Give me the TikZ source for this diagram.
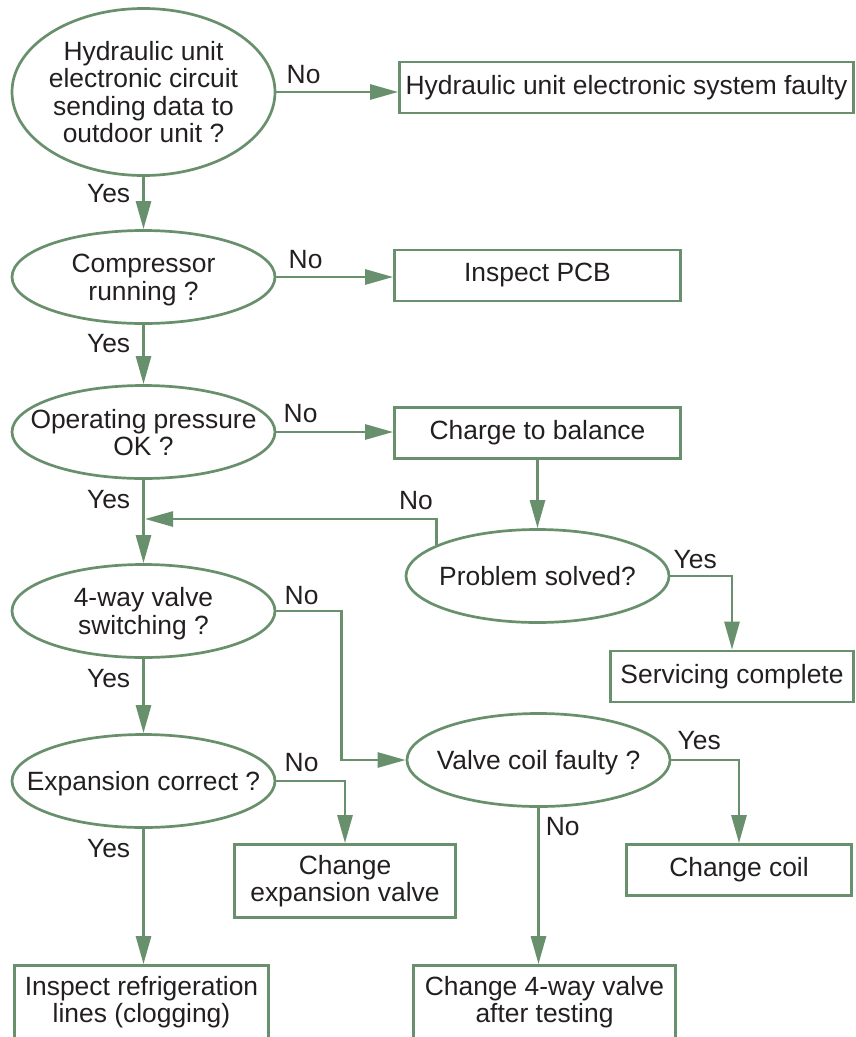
\documentclass[tikz,border=0pt]{standalone}
\usepackage{fontspec}
\setmainfont{Liberation Sans}
\usetikzlibrary{positioning, shapes, arrows.meta}

\definecolor{verde}{RGB}{104,144,108}
\definecolor{texto}{RGB}{35,31,32}

% texto da pergunta sem largura, a elipse fica so com o tamanho minimo
\newcommand{\pergunta}[1]{\makebox[0pt]{\raisebox{0pt}[\height][\dimexpr\depth-8pt\relax]{\begin{tabular}{@{}c@{}}#1\end{tabular}}}}

\begin{document}
\begin{tikzpicture}[x=1pt, y=-1pt, >={Triangle[length=28pt, width=15pt]}, font=\fontsize{26.4}{27}\selectfont, text=texto,
	decisao/.style={ellipse, draw=verde, line width=2.7pt, minimum width=263pt, minimum height=93pt, inner sep=0pt},
	acao/.style={rectangle, draw=verde, line width=2.7pt, minimum height=51pt, inner sep=0pt, align=center},
	linha/.style={->, draw=verde, line width=2.7pt},
	rotulo/.style={inner sep=0pt} ]
		\clip (0,0) rectangle (856,1037);

		%Perguntas:
		\node[decisao, minimum height=167pt]	(hidr)		at (143.5,92)	{\pergunta{Hydraulic unit\\electronic circuit\\sending data to\\outdoor unit ?}};
		\node[decisao]						(comp)		at (143.5,277)	{\pergunta{Compressor\\running ?}};
		\node[decisao]						(pressao)	at (143.5,432)	{\pergunta{Operating pressure\\OK ?}};
		\node[decisao]						(valvula)	at (143.5,611)	{\pergunta{4-way valve\\switching ?}};
		\node[decisao]						(expansao)	at (143.5,781)	{\pergunta{Expansion correct ?}};
		\node[decisao]						(resolvido)	at (537.5,576)	{\pergunta{Problem solved?}};
		\node[decisao]						(bobina)	at (538.5,760)	{\pergunta{Valve coil faulty ?}};

		%Acoes:
		\node[acao, minimum width=454pt]		(falha)		at (626.5,87.5)	{Hydraulic unit electronic system faulty};
		\node[acao, minimum width=286pt]		(pcb)		at (537.5,275.5)	{Inspect PCB};
		\node[acao, minimum width=286pt]		(carga)		at (537.5,433)	{Charge to balance};
		\node[acao, minimum width=243pt]		(fim)		at (732,676.5)	{Servicing complete};
		\node[acao, minimum width=225pt]		(trocabob)	at (739,870)	{Change coil};
		\node[acao, minimum width=221pt, minimum height=73pt]	(trocaexp)	at (345,881)	{Change\\expansion valve};
		\node[acao, minimum width=254pt, minimum height=73pt]	(linhas)	at (141.5,1002)	{Inspect refrigeration\\lines (clogging)};
		\node[acao, minimum width=262pt, minimum height=73pt]	(troca4v)	at (544.5,1002)	{Change 4-way valve\\after testing};
		\coordinate (juncao) at (145,519);

		%Ligacoes:
		%(Partida) -- (Destino) node {resposta}
		\draw[linha] (hidr.east) -- (hidr.east -| falha.west)	node[rotulo, pos=0, above right=7pt and 9pt]	(n1) {No};
		\draw[linha] (hidr) -- (comp)						node[rotulo, pos=0, below left=6pt and 12pt]	(s1) {Yes};
		\draw[linha] (comp.east) -- (comp.east -| pcb.west)		node[rotulo, pos=0, above right=7pt and 11pt]	(n2) {No};
		\draw[linha] (comp) -- (pressao)					node[rotulo, pos=0, below left=8pt and 12pt]	(s2) {Yes};
		\draw[linha] (pressao.east) -- (pressao.east -| carga.west)	node[rotulo, pos=0, above right=8pt and 6pt]	(n3) {No};
		\draw[linha] (pressao) -- (valvula)					node[rotulo, pos=0, below left=9pt and 12pt]	(s3) {Yes};
		\draw[linha] (carga) -- (resolvido);
		\draw[linha] (resolvido.163) |- (juncao)				node[rotulo, pos=0.5, above left=8pt and 2pt]	(n4) {No};
		\draw[linha] (resolvido.east) -| (fim.north)			node[rotulo, pos=0, above right=6pt and 2pt]	(s4) {Yes};
		\draw[linha] (valvula.east) -- node[rotulo, pos=0, above right=5pt and 7pt] (n5) {No} ++(65,0) |- (bobina.west);
		\draw[linha] (valvula) -- (expansao)				node[rotulo, pos=0, below left=9pt and 12pt]	(s5) {Yes};
		\draw[linha] (bobina.east) -| (trocabob.north)			node[rotulo, pos=0, above right=9pt and 5pt]	(s6) {Yes};
		\draw[linha] (bobina.south) -- (bobina.south |- troca4v.north)	node[rotulo, pos=0, below right=8pt and 6pt]	(n6) {No};
		\draw[linha] (expansao.east) -| (trocaexp.north)		node[rotulo, pos=0, above right=8pt and 7pt]	(n7) {No};
		\draw[linha] (expansao.south) -- (expansao.south |- linhas.north)	node[rotulo, pos=0, below left=9pt and 12pt]	(s7) {Yes};
	\end{tikzpicture}
\end{document}
